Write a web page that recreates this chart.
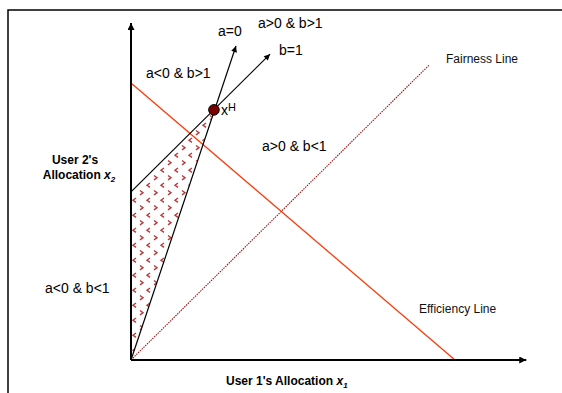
<!DOCTYPE html>
<html>
<head>
<meta charset="utf-8">
<script src="https://cdn.jsdelivr.net/npm/d3@7"></script>
<style>
  body { margin: 0; background: #fff; }
  svg { display: block; font-family: Arial, "Liberation Sans", sans-serif; }
</style>
</head>
<body>
<div id="chart"></div>
<script>
// values in allocation units (same unit on both axes)
var axis_max = [12.2, 10.4];
var efficiency = [[0, 8.55], [10, 0]];
var fairness = [[0, 0], [9.2, 9.1]];
var line_a0 = [[0, 0], [3.24, 9.69]];
var line_b1 = [[0, 5.19], [4.29, 9.44]];
var x_h = [2.56, 7.72];
var region = [[0, 0], [0, 5.19], [2.56, 7.72]];
var region_labels = ["a=0", "a>0 & b>1", "b=1", "a<0 & b>1", "a>0 & b<1", "a<0 & b<1"];
var line_labels = ["Fairness Line", "Efficiency Line"];
var axis_titles = ["User 1's Allocation ", "User 2's", "Allocation "];

var width = 562,
  height = 393;
var origin = { x: 131, y: 360 };
var unit = 32.4;

var svg = d3
  .select("#chart")
  .append("svg")
  .attr("width", width)
  .attr("height", height);

var x = d3
  .scaleLinear()
  .domain([0, axis_max[0]])
  .range([origin.x, origin.x + axis_max[0] * unit]);
var y = d3
  .scaleLinear()
  .domain([0, axis_max[1]])
  .range([origin.y, origin.y - axis_max[1] * unit]);

var line = d3
  .line()
  .x((d) => x(d[0]))
  .y((d) => y(d[1]));

var defs = svg.append("defs");

function arrow(id, w, h) {
  defs
    .append("marker")
    .attr("id", id)
    .attr("viewBox", "0 0 10 10")
    .attr("refX", 10)
    .attr("refY", 5)
    .attr("markerUnits", "userSpaceOnUse")
    .attr("markerWidth", w)
    .attr("markerHeight", h)
    .attr("orient", "auto")
    .append("path")
    .attr("d", "M0,0L10,5L0,10z")
    .attr("fill", "#000");
}
arrow("arrow-axis", 10, 7);
arrow("arrow-thin", 8, 6);

// chevron fill for the shaded region
var pat_color = "#b8383a";
var pat = defs
  .append("pattern")
  .attr("id", "chevrons")
  .attr("patternUnits", "userSpaceOnUse")
  .attr("x", origin.x)
  .attr("y", 2)
  .attr("width", 14)
  .attr("height", 15);
pat
  .append("path")
  .attr("d", "M5,1L2,3.2L5,5.4")
  .attr("fill", "none")
  .attr("stroke", pat_color)
  .attr("stroke-width", 1.4);
pat
  .append("path")
  .attr("d", "M9,8.5L12,10.7L9,12.9")
  .attr("fill", "none")
  .attr("stroke", pat_color)
  .attr("stroke-width", 1.4);

// outer frame
svg
  .append("path")
  .attr("d", `M8,${height}L8,10L${width},10`)
  .attr("fill", "none")
  .attr("stroke", "#000")
  .attr("stroke-width", 1.5);

svg
  .append("path")
  .attr("d", line(region) + "Z")
  .attr("fill", "url(#chevrons)")
  .attr("stroke", "none");

svg
  .append("path")
  .attr("d", line(fairness))
  .attr("fill", "none")
  .attr("stroke", "#9a1515")
  .attr("stroke-width", 1.1)
  .attr("stroke-dasharray", "1.5,1");

svg
  .append("path")
  .attr("d", line(efficiency))
  .attr("fill", "none")
  .attr("stroke", "#ff3a0a")
  .attr("stroke-width", 1.3);

svg
  .append("path")
  .attr("d", line(line_a0))
  .attr("fill", "none")
  .attr("stroke", "#000")
  .attr("stroke-width", 1.2)
  .attr("marker-end", "url(#arrow-thin)");

svg
  .append("path")
  .attr("d", line(line_b1))
  .attr("fill", "none")
  .attr("stroke", "#000")
  .attr("stroke-width", 1.2)
  .attr("marker-end", "url(#arrow-thin)");

// axes
svg
  .append("path")
  .attr("d", line([[0, 0], [axis_max[0], 0]]))
  .attr("stroke", "#000")
  .attr("stroke-width", 2)
  .attr("marker-end", "url(#arrow-axis)");
svg
  .append("path")
  .attr("d", line([[0, 0], [0, axis_max[1]]]))
  .attr("stroke", "#000")
  .attr("stroke-width", 2)
  .attr("marker-end", "url(#arrow-axis)");

svg
  .append("circle")
  .attr("cx", x(x_h[0]))
  .attr("cy", y(x_h[1]))
  .attr("r", 5.3)
  .attr("fill", "#7a0000")
  .attr("stroke", "#000")
  .attr("stroke-width", 1);

var xh = svg
  .append("text")
  .attr("x", x(x_h[0]) + 7)
  .attr("y", y(x_h[1]) + 5)
  .style("font-size", "14px");
xh.append("tspan").text("x");
xh.append("tspan").attr("dy", -4).style("font-size", "11px").text("H");

var label_pos = [
  [218, 36],
  [258, 28],
  [279, 55],
  [146, 78],
  [262, 151],
  [45, 293],
];
svg
  .selectAll(".region-label")
  .data(region_labels)
  .enter()
  .append("text")
  .attr("class", "region-label")
  .attr("x", (d, i) => label_pos[i][0])
  .attr("y", (d, i) => label_pos[i][1])
  .style("font-size", "14px")
  .attr("fill", "#000")
  .text((d) => d);

var line_label_pos = [
  [446, 63],
  [419, 313],
];
svg
  .selectAll(".line-label")
  .data(line_labels)
  .enter()
  .append("text")
  .attr("class", "line-label")
  .attr("x", (d, i) => line_label_pos[i][0])
  .attr("y", (d, i) => line_label_pos[i][1])
  .style("font-size", "12px")
  .attr("fill", "#111")
  .text((d) => d);

// axis titles
var xt = svg
  .append("text")
  .attr("x", 226)
  .attr("y", 385)
  .style("font-size", "12px")
  .style("font-weight", "bold");
xt.append("tspan").text(axis_titles[0]);
xt.append("tspan").style("font-style", "italic").text("x");
xt.append("tspan").attr("dy", 3).style("font-size", "8px").style("font-style", "italic").text("1");

svg
  .append("text")
  .attr("x", 75)
  .attr("y", 164)
  .attr("text-anchor", "middle")
  .style("font-size", "12px")
  .style("font-weight", "bold")
  .text(axis_titles[1]);
var yt = svg
  .append("text")
  .attr("x", 79)
  .attr("y", 179)
  .attr("text-anchor", "middle")
  .style("font-size", "12px")
  .style("font-weight", "bold");
yt.append("tspan").text(axis_titles[2]);
yt.append("tspan").style("font-style", "italic").text("x");
yt.append("tspan").attr("dy", 3).style("font-size", "8px").style("font-style", "italic").text("2");
</script>
</body>
</html>
